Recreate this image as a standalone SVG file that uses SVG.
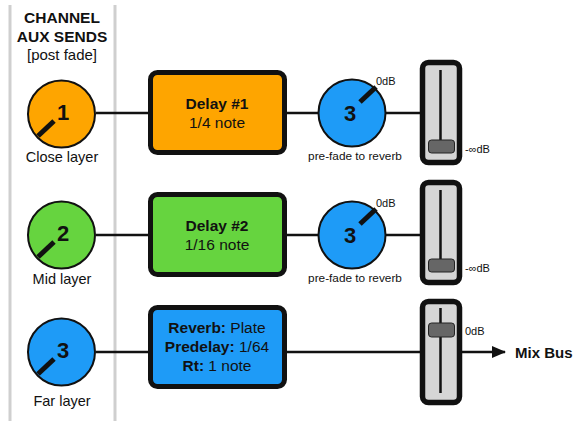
<svg xmlns="http://www.w3.org/2000/svg" width="583" height="431" viewBox="0 0 583 431">
<defs>
<style>
text{font-family:"Liberation Sans",Arial,sans-serif;fill:#111}
.sep{stroke:#cfcfcf;stroke-width:3}
.knob{stroke:#111;stroke-width:2}
.ptr{stroke:#111;stroke-width:5}
.num{font-size:22px;font-weight:bold;text-anchor:middle}
.lbl{font-size:14.5px;text-anchor:middle}
.box{stroke:#111;stroke-width:5}
.bt{font-size:15.5px;text-anchor:middle}
.b{font-weight:bold}
.small{font-size:11px}
.pf{font-size:11.8px;text-anchor:middle}
.fo{fill:#d6d6d6;stroke:#111;stroke-width:5.5}
.slot{stroke:#111;stroke-width:2.5}
.hdl{fill:#666;stroke:#222;stroke-width:1}
.wire{stroke:#111;stroke-width:2.5;fill:none}
</style>
<marker id="arr" markerWidth="14" markerHeight="12" refX="13" refY="6" orient="auto" markerUnits="userSpaceOnUse">
<path d="M0,0 L14,6 L0,12 z" fill="#111"/>
</marker>
</defs>
<rect width="583" height="431" fill="#fff"/>
<line class="sep" x1="10" y1="5" x2="10" y2="421"/>
<line class="sep" x1="115" y1="5" x2="115" y2="421"/>
<g id="title">
<text x="62" y="23" text-anchor="middle" font-size="15.5" font-weight="bold">CHANNEL</text>
<text x="62" y="42" text-anchor="middle" font-size="15.5" font-weight="bold">AUX SENDS</text>
<text x="62" y="60" text-anchor="middle" font-size="15">[post fade]</text>
</g>
<g id="connectors">
<line class="wire" x1="96" y1="113" x2="150" y2="113"/>
<line class="wire" x1="285" y1="113" x2="319" y2="113"/>
<line class="wire" x1="385" y1="113" x2="422" y2="113"/>
<line class="wire" x1="96" y1="235" x2="150" y2="235"/>
<line class="wire" x1="285" y1="235" x2="319" y2="235"/>
<line class="wire" x1="385" y1="235" x2="422" y2="235"/>
<line class="wire" x1="96" y1="352" x2="150" y2="352"/>
<line class="wire" x1="285" y1="352" x2="422" y2="352"/>
<line class="wire" x1="460" y1="352" x2="505" y2="352" marker-end="url(#arr)"/>
</g>
<g id="send1">
<circle class="knob" cx="61.5" cy="114" r="33.5" fill="#FEA500"/>
<line class="ptr" x1="54" y1="121" x2="38" y2="136"/>
<text class="num" x="63" y="120">1</text>
<text class="lbl" x="62" y="162">Close layer</text>
</g>
<g id="send2">
<circle class="knob" cx="61.5" cy="235" r="33.5" fill="#66D43F"/>
<line class="ptr" x1="54" y1="242" x2="38" y2="257"/>
<text class="num" x="63" y="241">2</text>
<text class="lbl" x="62" y="284">Mid layer</text>
</g>
<g id="send3">
<circle class="knob" cx="61.5" cy="352" r="33.5" fill="#1E9BF7"/>
<line class="ptr" x1="54" y1="359" x2="38" y2="374"/>
<text class="num" x="63" y="358">3</text>
<text class="lbl" x="62" y="406">Far layer</text>
</g>
<g id="delay1">
<rect class="box" x="150.5" y="72.5" width="134" height="80" rx="7" fill="#FEA500"/>
<text class="bt b" x="217" y="109">Delay #1</text>
<text class="bt" x="217" y="128">1/4 note</text>
</g>
<g id="delay2">
<rect class="box" x="150.5" y="194.5" width="134" height="80" rx="7" fill="#66D43F"/>
<text class="bt b" x="217" y="231">Delay #2</text>
<text class="bt" x="217" y="250">1/16 note</text>
</g>
<g id="reverb">
<rect class="box" x="150.5" y="307.5" width="134" height="79" rx="7" fill="#1E9BF7"/>
<text class="bt" x="217" y="333"><tspan class="b">Reverb:</tspan> Plate</text>
<text class="bt" x="217" y="352"><tspan class="b">Predelay:</tspan> 1/64</text>
<text class="bt" x="217" y="371"><tspan class="b">Rt:</tspan> 1 note</text>
</g>
<g id="send-knob1">
<circle class="knob" cx="352" cy="113" r="33.5" fill="#1E9BF7"/>
<line class="ptr" x1="360" y1="102" x2="376" y2="87"/>
<text class="num" x="350" y="121">3</text>
<text class="small" x="376" y="85">0dB</text>
<text class="pf" x="355" y="160">pre-fade to reverb</text>
</g>
<g id="send-knob2">
<circle class="knob" cx="352" cy="235" r="33.5" fill="#1E9BF7"/>
<line class="ptr" x1="360" y1="224" x2="376" y2="209"/>
<text class="num" x="350" y="243">3</text>
<text class="small" x="376" y="207">0dB</text>
<text class="pf" x="355" y="282">pre-fade to reverb</text>
</g>
<g id="fader1">
<rect class="fo" x="422.5" y="62.5" width="37" height="100" rx="6"/>
<line class="slot" x1="440.5" y1="70" x2="440.5" y2="152"/>
<rect class="hdl" x="428.5" y="140" width="26" height="13" rx="3"/>
<text class="small" x="465" y="153">-∞dB</text>
</g>
<g id="fader2">
<rect class="fo" x="422.5" y="182.5" width="37" height="100" rx="6"/>
<line class="slot" x1="440.5" y1="190" x2="440.5" y2="272"/>
<rect class="hdl" x="428.5" y="259" width="26" height="13" rx="3"/>
<text class="small" x="465" y="272">-∞dB</text>
</g>
<g id="fader3">
<rect class="fo" x="422.5" y="301.5" width="37" height="101" rx="6"/>
<line class="slot" x1="440.5" y1="308" x2="440.5" y2="393"/>
<rect class="hdl" x="428.5" y="323" width="26" height="14" rx="3"/>
<text class="small" x="465" y="335">0dB</text>
</g>
<g id="mixbus">
<text x="515" y="358" font-size="15" font-weight="bold">Mix Bus</text>
</g>
</svg>
